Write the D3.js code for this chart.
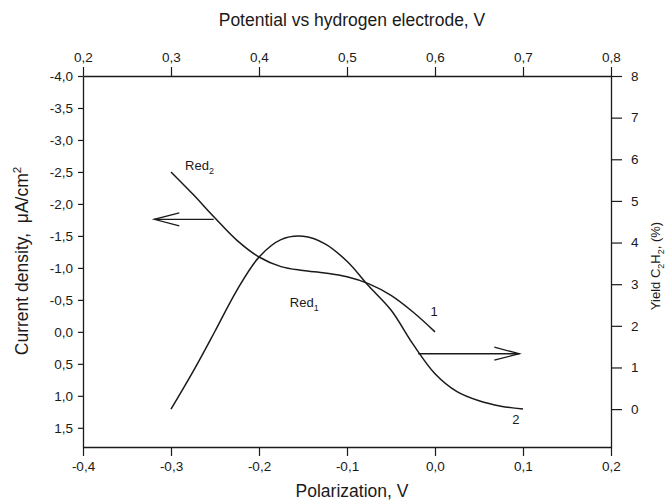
<!DOCTYPE html>
<html>
<head>
<meta charset="utf-8">
<script src="https://cdn.jsdelivr.net/npm/d3@7"></script>
<style>
  html, body { margin: 0; padding: 0; background: #fff; }
  svg { display: block; font-family: "Liberation Sans", Arial, sans-serif; }
</style>
</head>
<body>
<svg id="chart" width="665" height="501"></svg>
<script>
// ---- data ----
const polarization1 = [-0.3, -0.275, -0.25, -0.225, -0.2, -0.175, -0.15, -0.125, -0.1, -0.075, -0.05, -0.025, 0.0];
const currentDensity = [-2.5, -2.15, -1.78, -1.43, -1.17, -1.02, -0.96, -0.92, -0.86, -0.75, -0.57, -0.31, 0.0];

const polarization2 = [-0.3, -0.275, -0.25, -0.225, -0.2, -0.175, -0.15, -0.125, -0.1, -0.075, -0.05, -0.025, 0.0, 0.025, 0.05, 0.075, 0.1];
const yieldC2H2 = [0.0, 0.9, 1.87, 2.86, 3.65, 4.07, 4.15, 3.97, 3.55, 2.95, 2.38, 1.56, 0.85, 0.42, 0.2, 0.07, 0.0];

const bottomTicks = [-0.4, -0.3, -0.2, -0.1, 0.0, 0.1, 0.2];
const topTicks = [0.2, 0.3, 0.4, 0.5, 0.6, 0.7, 0.8];
const leftTicks = [-4.0, -3.5, -3.0, -2.5, -2.0, -1.5, -1.0, -0.5, 0.0, 0.5, 1.0, 1.5];
const rightTicks = [0, 1, 2, 3, 4, 5, 6, 7, 8];

const titleTop = "Potential vs hydrogen electrode, V";
const titleBottom = "Polarization, V";

// ---- layout ----
const L = 83, R = 611, T = 76, B = 447;
const svg = d3.select("#chart");

const x = d3.scaleLinear().domain([-0.4, 0.2]).range([L, R]);
const xTop = d3.scaleLinear().domain([0.2, 0.8]).range([L, R]);
const yL = d3.scaleLinear().domain([-4, 1.8]).range([T, B]);
const yR = d3.scaleLinear().domain([8, -0.91]).range([T, B]);

const fmt1 = v => d3.format(".1f")(v).replace("−", "-").replace(".", ",");
const fmt0 = v => d3.format("d")(v).replace("−", "-");

const ink = "#1a1a1a";

function styleAxis(g) {
  g.selectAll("path.domain").attr("stroke", ink).attr("stroke-width", 1.3);
  g.selectAll(".tick line").attr("stroke", ink).attr("stroke-width", 1.2);
  g.selectAll(".tick text").attr("fill", ink).attr("font-size", 13.5)
    .attr("font-family", "'Liberation Sans', Arial, sans-serif");
}

svg.append("g").attr("transform", `translate(0,${B})`)
  .call(d3.axisBottom(x).tickValues(bottomTicks).tickFormat(fmt1).tickSize(9).tickSizeOuter(0).tickPadding(5))
  .call(styleAxis);

svg.append("g").attr("transform", `translate(0,${T})`)
  .call(d3.axisTop(xTop).tickValues(topTicks).tickFormat(fmt1).tickSize(9).tickSizeOuter(0).tickPadding(5))
  .call(styleAxis);

svg.append("g").attr("transform", `translate(${L},0)`)
  .call(d3.axisLeft(yL).tickValues(leftTicks).tickFormat(fmt1).tickSize(5).tickSizeOuter(0).tickPadding(5))
  .call(styleAxis);

svg.append("g").attr("transform", `translate(${R},0)`)
  .call(d3.axisRight(yR).tickValues(rightTicks).tickFormat(fmt0).tickSize(11).tickSizeOuter(0).tickPadding(9))
  .call(styleAxis);

// ---- curves ----
const line1 = d3.line().x((d, i) => x(polarization1[i])).y(d => yL(d)).curve(d3.curveCatmullRom.alpha(0.5));
const line2 = d3.line().x((d, i) => x(polarization2[i])).y(d => yR(d)).curve(d3.curveCatmullRom.alpha(0.5));

svg.append("path").datum(currentDensity).attr("d", line1)
  .attr("fill", "none").attr("stroke", ink).attr("stroke-width", 1.5);
svg.append("path").datum(yieldC2H2).attr("d", line2)
  .attr("fill", "none").attr("stroke", ink).attr("stroke-width", 1.5);

// ---- arrows ----
function arrow(x0, y0, x1, y1) {
  const g = svg.append("g").attr("stroke", ink).attr("stroke-width", 1.3).attr("fill", "none");
  g.append("line").attr("x1", x0).attr("y1", y0).attr("x2", x1).attr("y2", y1);
  const dir = Math.sign(x1 - x0);
  g.append("path").attr("d", `M${x1 - dir * 25},${y1 - 6.5}L${x1},${y1}L${x1 - dir * 25},${y1 + 6.5}`);
}
arrow(x(-0.2515), yL(-1.76), x(-0.319), yL(-1.76));
arrow(x(-0.019), yR(1.33), x(0.0958), yR(1.33));

// ---- labels ----
function subLabel(px, py, main, sub) {
  const t = svg.append("text").attr("x", px).attr("y", py).attr("font-size", 13).attr("fill", ink);
  t.append("tspan").text(main);
  t.append("tspan").attr("font-size", 9).attr("dy", 4).text(sub);
}
subLabel(x(-0.284), yL(-2.53), "Red", "2");
subLabel(x(-0.165), yL(-0.39), "Red", "1");

svg.append("text").attr("x", x(-0.001)).attr("y", yL(-0.25)).attr("text-anchor", "middle")
  .attr("font-size", 13).attr("fill", ink).text("1");
svg.append("text").attr("x", x(0.092)).attr("y", yR(-0.36)).attr("text-anchor", "middle")
  .attr("font-size", 13).attr("fill", ink).text("2");

// ---- titles ----
svg.append("text").attr("x", 352).attr("y", 26).attr("text-anchor", "middle")
  .attr("font-size", 17.5).attr("fill", ink).text(titleTop);
svg.append("text").attr("x", 352).attr("y", 497).attr("text-anchor", "middle")
  .attr("font-size", 17.5).attr("fill", ink).text(titleBottom);

const lt = svg.append("text").attr("transform", `translate(28,261) rotate(-90)`)
  .attr("text-anchor", "middle").attr("font-size", 17.5).attr("fill", ink);
lt.append("tspan").text("Current density,\u00a0\u00a0μA/cm");
lt.append("tspan").attr("font-size", 11.5).attr("dy", -7).text("2");

const rt = svg.append("text").attr("transform", `translate(660,266) rotate(-90)`)
  .attr("text-anchor", "middle").attr("font-size", 13).attr("fill", ink);
rt.append("tspan").text("Yield C");
rt.append("tspan").attr("font-size", 9).attr("dy", 4).text("2");
rt.append("tspan").attr("dy", -4).text("H");
rt.append("tspan").attr("font-size", 9).attr("dy", 4).text("2");
rt.append("tspan").attr("dy", -4).text(", (%)");
</script>
</body>
</html>
